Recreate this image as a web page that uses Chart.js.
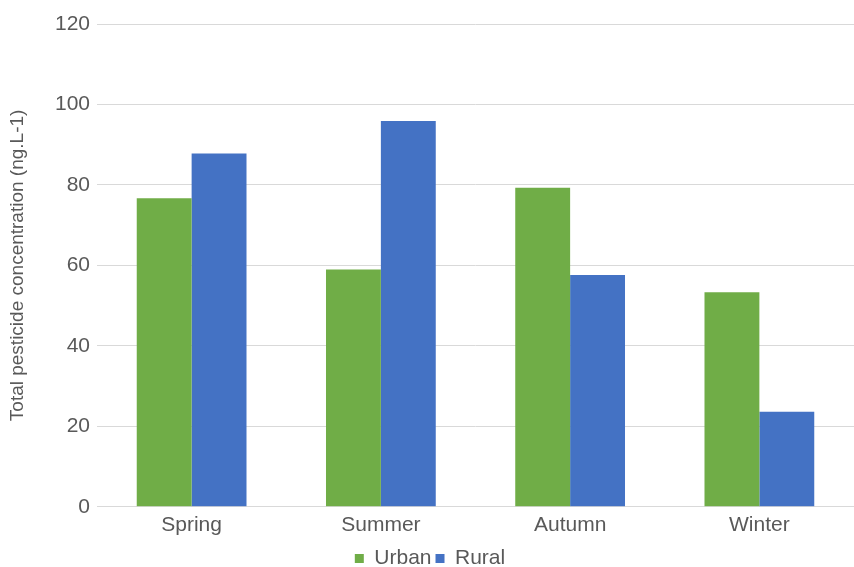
<!DOCTYPE html>
<html>
<head>
<meta charset="utf-8">
<script src="https://cdn.jsdelivr.net/npm/chart.js@4"></script>
<style>
  html, body { margin: 0; padding: 0; background: #fff; }
  #wrap { width: 854px; height: 567px; position: relative; }
</style>
</head>
<body>
<div id="wrap"><canvas id="chart"></canvas></div>
<script>
// 季节与两组数据
const seasons = ['Spring', 'Summer', 'Autumn', 'Winter'];
const urbanValues = [76.7, 59.0, 79.3, 53.3];
const ruralValues = [87.8, 95.9, 57.6, 23.6];
const yTicks = [0, 20, 40, 60, 80, 100, 120];

const textColor = '#595959';
const fontFamily = '"Liberation Sans", Arial, sans-serif';

const ctx = document.getElementById('chart').getContext('2d');
new Chart(ctx, {
    type: 'bar',
    data: {
        labels: seasons,
        datasets: [{
            label: 'Urban',
            data: urbanValues,
            backgroundColor: '#70AD47',
            borderWidth: 0
        }, {
            label: 'Rural',
            data: ruralValues,
            backgroundColor: '#4472C4',
            borderWidth: 0
        }]
    },
    options: {
        responsive: true,
        maintainAspectRatio: false,
        animation: false,
        layout: { padding: { top: 24, right: 0, left: 6, bottom: -12 } },
        datasets: { bar: { categoryPercentage: 0.58, barPercentage: 1.0 } },
        plugins: {
            legend: {
                position: 'bottom',
                labels: {
                    color: textColor,
                    font: { family: fontFamily, size: 21 },
                    boxWidth: 9,
                    boxHeight: 9,
                    padding: 4
                }
            },
            tooltip: { enabled: false }
        },
        scales: {
            x: {
                grid: { display: false, drawTicks: false },
                border: { color: '#d9d9d9' },
                ticks: {
                    color: textColor,
                    font: { family: fontFamily, size: 21 },
                    padding: 6
                }
            },
            y: {
                min: 0,
                max: 120,
                afterBuildTicks: (scale) => { scale.ticks = yTicks.map(v => ({ value: v })); },
                grid: { color: '#d9d9d9', drawTicks: false },
                border: { display: false },
                ticks: {
                    color: textColor,
                    font: { family: fontFamily, size: 21 },
                    padding: 7
                },
                title: {
                    display: true,
                    text: 'Total pesticide concentration (ng.L-1)',
                    color: textColor,
                    font: { family: fontFamily, size: 19 },
                    padding: 0
                },
                afterFit: (scale) => { scale.width = 91; }
            }
        }
    }
});
</script>
</body>
</html>
